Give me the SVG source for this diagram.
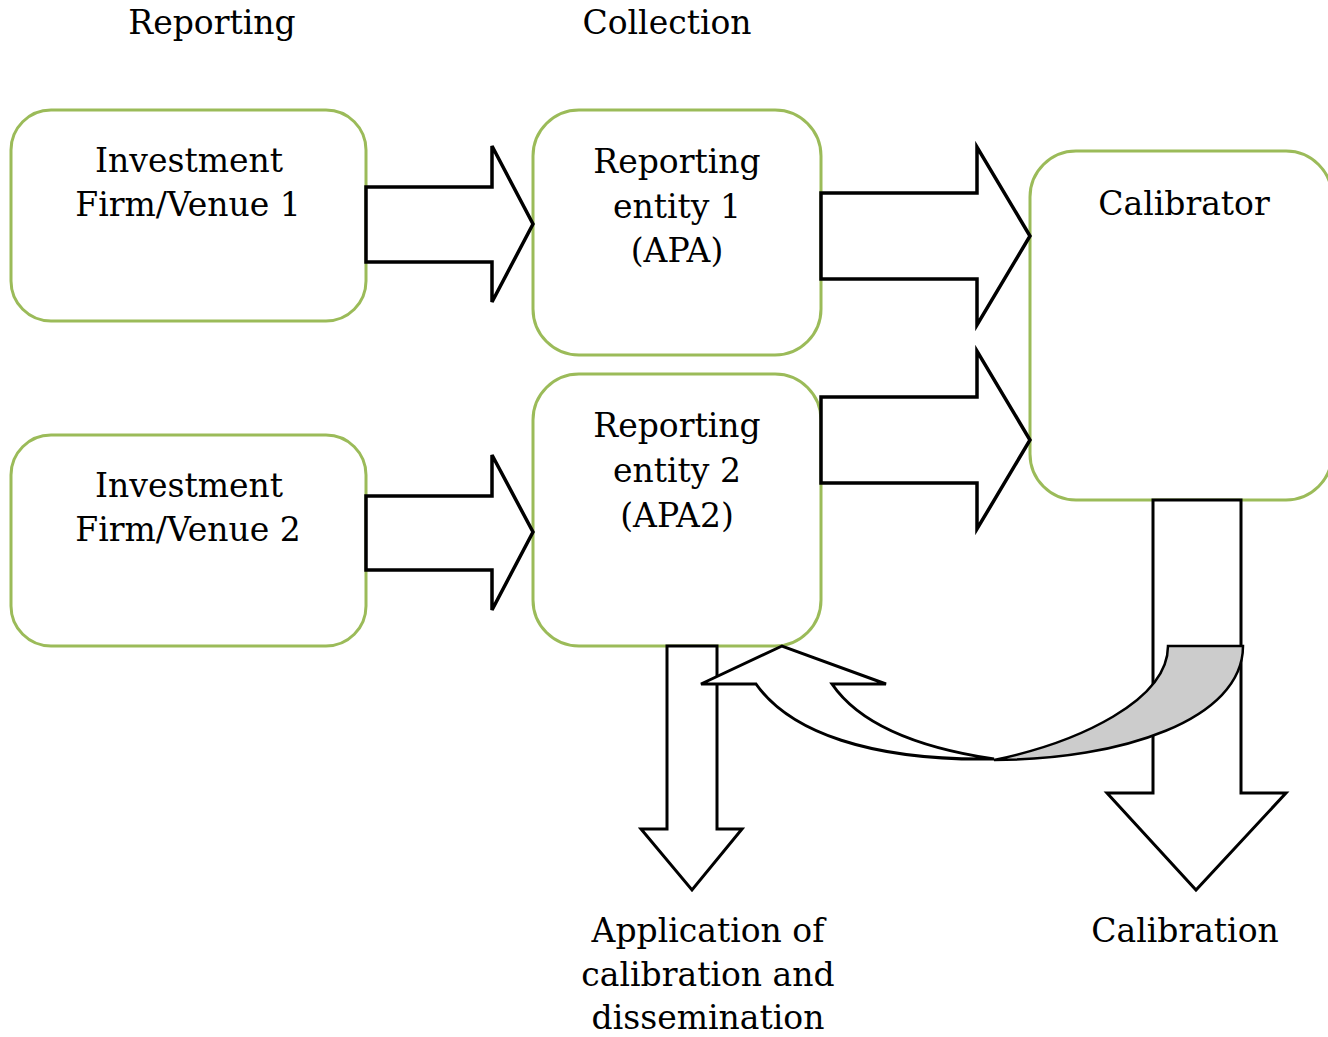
<svg xmlns="http://www.w3.org/2000/svg" width="1328" height="1037" viewBox="0 0 1328 1037">
<style>
.box{fill:#fff;stroke:#9BBB59;stroke-width:3}
.arr{fill:#fff;stroke:#000;stroke-width:3.5;stroke-linejoin:miter}
.arr2{fill:#fff;stroke:#000;stroke-width:3;stroke-linejoin:miter}
.gray{fill:#cccccc;stroke:#000;stroke-width:2.5}
.t{font-family:"DejaVu Serif","Liberation Serif",serif;font-size:33px;fill:#000;text-anchor:middle}
</style>
<rect width="1328" height="1037" fill="#fff"/>
<g id="header-reporting"><text class="t" x="212" y="34">Reporting</text></g>
<g id="header-collection"><text class="t" x="667" y="34">Collection</text></g>
<g id="firm1"><rect class="box" x="11" y="110" width="355" height="211" rx="40"/>
<text class="t" x="189" y="172">Investment</text><text class="t" x="188" y="216">Firm/Venue 1</text></g>
<g id="firm2"><rect class="box" x="11" y="435" width="355" height="211" rx="40"/>
<text class="t" x="189" y="497">Investment</text><text class="t" x="188" y="541">Firm/Venue 2</text></g>
<g id="entity1"><rect class="box" x="533" y="110" width="288" height="245" rx="46"/>
<text class="t" x="677" y="173">Reporting</text><text class="t" x="677" y="218">entity 1</text><text class="t" x="677" y="262">(APA)</text></g>
<g id="entity2"><rect class="box" x="533" y="374" width="288" height="272" rx="46"/>
<text class="t" x="677" y="437">Reporting</text><text class="t" x="677" y="482">entity 2</text><text class="t" x="677" y="527">(APA2)</text></g>
<g id="calibrator"><rect class="box" x="1030" y="151" width="302" height="349" rx="46"/>
<text class="t" x="1184" y="215">Calibrator</text></g>
<g id="label-application"><text class="t" x="708" y="942">Application of</text><text class="t" x="708" y="986">calibration and</text><text class="t" x="708" y="1029">dissemination</text></g>
<g id="label-calibration"><text class="t" x="1185" y="942">Calibration</text></g>
<g id="connectors">
<path class="arr" d="M366 187 H492 V146 L533 224 L492 302 V262 H366 Z"/>
<path class="arr" d="M366 496 H492 V455 L533 532 L492 610 V570 H366 Z"/>
<path class="arr" d="M821 193 H977 V147 L1030 236 L977 325 V279 H821 Z"/>
<path class="arr" d="M821 397 H977 V351 L1030 440 L977 529 V483 H821 Z"/>
<path class="arr2" d="M667 646 H717 V829 H742 L692 890 L641 829 H667 Z"/>
<path class="arr2" d="M1153 500 H1241 V793 H1286 L1196 890 L1107 793 H1153 Z"/>
<path class="gray" d="M1168 646 L1243 646 C1243 720 1120 760 994 760 C1080 742 1168 700 1168 646 Z"/>
<path class="arr2" d="M756 684 L701 684 L782 646 L886 684 L832 684 C860 725 920 748 994 759 C870 761 790 732 756 684 Z"/>
</g>
</svg>
